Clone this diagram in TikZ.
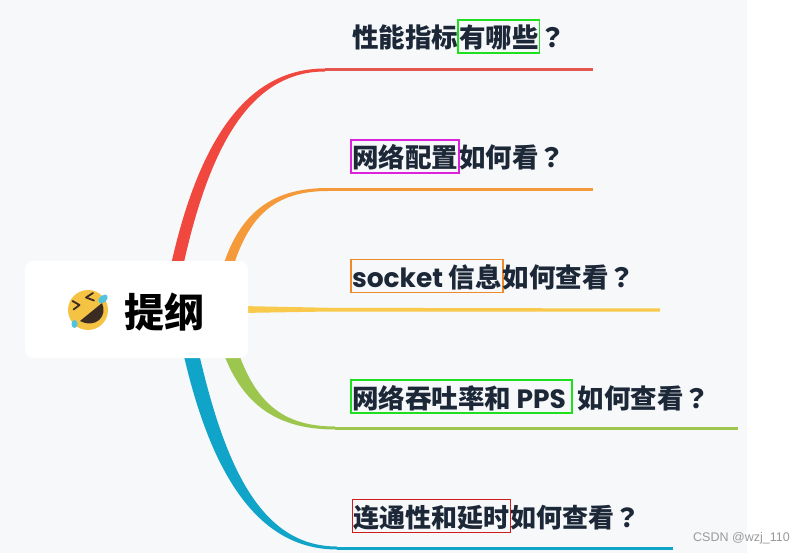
\documentclass[tikz,border=0pt]{standalone}
\usepackage{fontspec}
\newfontfamily\cjk{Noto Sans CJK SC}
\newfontfamily\cjkjp{Noto Sans CJK JP}
\newfontfamily\cjkblack{Noto Sans CJK SC Black}
\newfontfamily\lat{Poppins}
\newfontfamily\wm{Liberation Sans}
\newcommand{\qm}{{\cjkjp ？}}
\definecolor{bg}{HTML}{F7F8FA}
\definecolor{ink}{HTML}{1C2838}
\definecolor{cred}{HTML}{F0473E}
\definecolor{cred2}{HTML}{E4564E}
\definecolor{corange}{HTML}{F59A3B}
\definecolor{cyellow}{HTML}{F8C94B}
\definecolor{cgreen}{HTML}{9DC64F}
\definecolor{cblue}{HTML}{10A4C9}
\definecolor{bxgreen}{HTML}{1EE01E}
\definecolor{bxmag}{HTML}{DD22DD}
\definecolor{bxorange}{HTML}{EE8A2A}
\definecolor{bxred}{HTML}{D01C1C}
\definecolor{face}{HTML}{F5C343}
\definecolor{mouth}{HTML}{3A2C22}
\definecolor{tear}{HTML}{4FC3E0}
\definecolor{wmgray}{HTML}{9A9A9A}
\tikzset{
  lab/.style={font=\cjk\bfseries\fontsize{26.5}{30}\selectfont, text=ink, inner sep=0pt, outer sep=0pt, anchor=base west},
  hl/.style={lab, draw=#1, line width=1.5pt, inner xsep=1pt, inner ysep=4pt, text height=24pt, text depth=1pt},
  small/.style={font=\cjk\bfseries\fontsize{26}{30}\selectfont},
  twig/.style={line width=3pt}
}
\begin{document}
\begin{tikzpicture}[x=1pt,y=-1pt]
\fill[white] (0,0) rectangle (805,553);
\fill[bg] (0,0) rectangle (747,553);
\useasboundingbox (0,0) rectangle (805,553);

% branch end points
\coordinate (r0) at (325,70);  \coordinate (r1) at (593,70);
\coordinate (o0) at (328,189.5); \coordinate (o1) at (593,189.5);
\coordinate (g0) at (335,428); \coordinate (g1) at (738,428);
\coordinate (b0) at (337,548); \coordinate (b1) at (673,548);

% red
\fill[cred] (166,289) .. controls (193,149) and (242,68.5) .. (325,68.5) -- (325,71.5) .. controls (248,71.5) and (205,151) .. (178,291) -- cycle;
\draw[cred2, twig] (r0) -- (r1);
% orange
\fill[corange] (217,289) .. controls (233,214) and (270,188) .. (328,188) -- (328,191) .. controls (274,191) and (243,216) .. (227,291) -- cycle;
\draw[corange, twig] (o0) -- (o1);
% yellow
\fill[cyellow] (240,306) -- (330,307.8) -- (660,308.5) -- (660,311.5) -- (330,311.5) -- (240,313) -- cycle;
% green
\fill[cgreen] (217,332) .. controls (235,402) and (274,429.5) .. (335,429.5) -- (335,426.5) .. controls (278,426.5) and (249,398) .. (231,328) -- cycle;
\draw[cgreen, twig] (g0) -- (g1);
% blue
\fill[cblue] (178.6,331.5) .. controls (203,452) and (247,549.5) .. (337,549.5) -- (337,546.5) .. controls (253,546.5) and (219,448) .. (193.4,328.5) -- cycle;
\draw[cblue, twig] (b0) -- (b1);

% root
\node[fill=white, rounded corners=8pt, minimum width=223pt, minimum height=97pt, inner sep=0pt] (root) at (136.5,309.5) {};
\begin{scope}[shift={(88,310)}]
  \fill[face] (0,0) circle (20);
  \fill[mouth] (-8,11) -- (14,-7) .. controls (20,6) and (8,19) .. (-8,11) -- cycle;
  \draw[mouth, line width=1.8pt, line cap=round, line join=round] (5,-17) -- (-2,-12.5) -- (6,-9.5);
  \draw[mouth, line width=1.8pt, line cap=round, line join=round] (-15.5,-9) -- (-8.5,-5) -- (-14.5,-0.5);
  \fill[tear, rotate around={40:(15,-11)}] (15,-11) ellipse (5.5 and 3.5);
  \fill[tear] (-13.5,14) ellipse (3 and 4);
\end{scope}
\node[font=\cjkblack\fontsize{40}{44}\selectfont, text=black, anchor=base, inner sep=0pt] (title) at (164,327) {提纲};

% labels
\node[lab] (t1a) at (352,48) {性能指标};
\node[hl=bxgreen] (t1b) at (t1a.base east) {有哪些};
\node[lab] (t1c) at (t1b.base east) {\qm};

\node[hl=bxmag] (t2a) at (351,168) {网络配置};
\node[lab] (t2b) at (t2a.base east) {如何看\qm};

\node[hl=bxorange] (t3a) at (351,287.5) {{\lat socket }信息};
\node[lab] (t3b) at (t3a.base east) {如何查看\qm};

\node[hl=bxgreen] (t4a) at (351,408) {网络吞吐率和{\lat\ PPS}\hspace*{5pt}};
\node[lab] (t4b) at ([xshift=6pt]t4a.base east) {如何查看\qm};

\node[hl=bxred, small] (t5a) at (352.5,527.5) {连通性和延时};
\node[lab, small] (t5b) at (t5a.base east) {如何查看\qm};

\node[font=\wm\fontsize{12.5}{14}\selectfont, text=wmgray, anchor=base west, inner sep=0pt] (wm) at (693,541) {CSDN @wzj\_110};
\end{tikzpicture}
\end{document}
